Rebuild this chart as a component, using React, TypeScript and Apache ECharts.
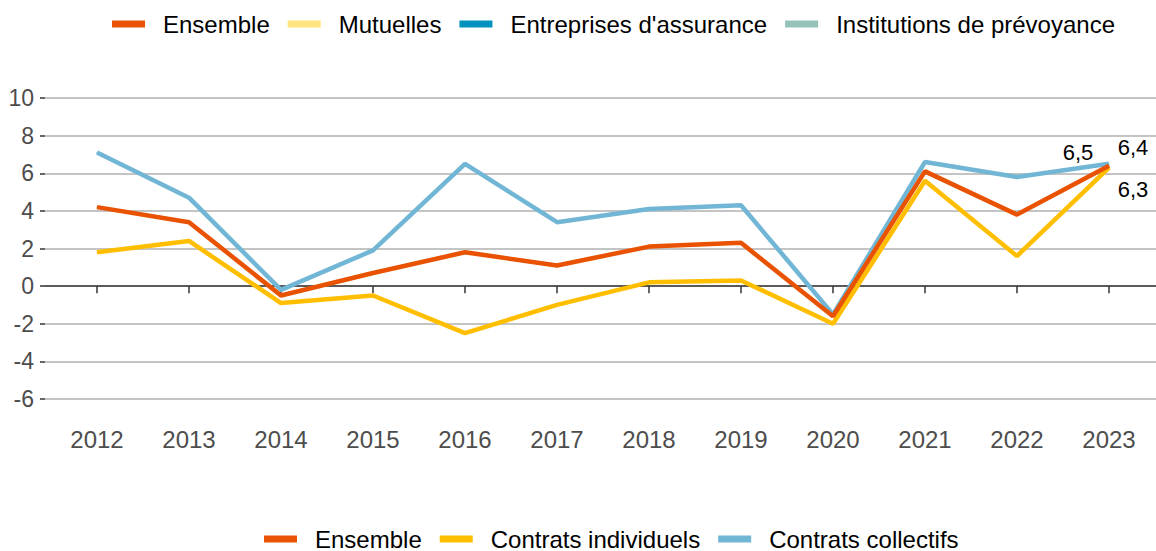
import React, { useEffect, useRef } from "react";
import * as echarts from "echarts";

const years = ["2012", "2013", "2014", "2015", "2016", "2017", "2018", "2019", "2020", "2021", "2022", "2023"];
const ensemble = [4.2, 3.4, -0.5, 0.7, 1.8, 1.1, 2.1, 2.3, -1.6, 6.1, 3.8, 6.4];
const individuels = [1.8, 2.4, -0.9, -0.5, -2.5, -1.0, 0.2, 0.3, -2.0, 5.6, 1.6, 6.3];
const collectifs = [7.1, 4.7, -0.2, 1.9, 6.5, 3.4, 4.1, 4.3, -1.5, 6.6, 5.8, 6.5];
const topLegend = ["Ensemble", "Mutuelles", "Entreprises d'assurance", "Institutions de prévoyance"];
const bottomLegend = ["Ensemble", "Contrats individuels", "Contrats collectifs"];

const FONT = "'Liberation Sans', Arial, sans-serif";

function withEndLabel(arr: number[], offset: [number, number]) {
  return arr.map((v, i) =>
    i === arr.length - 1
      ? {
          value: v,
          label: {
            show: true,
            position: "inside",
            offset,
            formatter: () => String(v).replace(".", ","),
            color: "#000",
            fontSize: 22,
            fontFamily: FONT,
          },
        }
      : v
  );
}

export default function App() {
  const ref = useRef<HTMLDivElement>(null);
  useEffect(() => {
    document.body.style.margin = "0";
    const chart = echarts.init(ref.current!, undefined, { renderer: "svg" });
    const gridColor = "#c4c4c4";
    const splitColors = [gridColor, gridColor, gridColor, "#5a5a5a", gridColor, gridColor, gridColor, gridColor, gridColor];
    const lineSeries = (name: string, data: any[], color: string, z: number) => ({
      name,
      type: "line",
      xAxisIndex: 1,
      yAxisIndex: 1,
      data,
      symbol: "circle",
      symbolSize: 1,
      showSymbol: true,
      z,
      itemStyle: { color },
      lineStyle: { color, width: 4.5 },
      emphasis: { disabled: true },
    });
    const dummy = (name: string, color: string) => ({
      name,
      type: "line",
      xAxisIndex: 1,
      yAxisIndex: 1,
      data: [],
      itemStyle: { color },
      lineStyle: { color },
    });
    const legendCommon = {
      icon: "rect",
      itemWidth: 33,
      itemHeight: 7,
      itemGap: 18,
      padding: 0,
      selectedMode: false,
      textStyle: { color: "#000", fontSize: 24, fontFamily: FONT, padding: [0, 0, 0, 13] },
    };
    chart.setOption({
      animation: false,
      textStyle: { fontFamily: FONT },
      legend: [
        { ...legendCommon, data: topLegend, left: 112, top: 12 },
        { ...legendCommon, data: bottomLegend, left: 264, top: 527 },
      ],
      grid: [
        { left: 45, right: 0, top: 98, height: 301 },
        { left: 51, right: 1, top: 98, height: 301 },
      ],
      xAxis: [
        { type: "value", gridIndex: 0, show: false, min: 0, max: 1 },
        {
          type: "category",
          gridIndex: 1,
          data: years,
          boundaryGap: true,
          offset: 14,
          axisLine: { show: false },
          axisTick: { show: true, alignWithLabel: true, length: 7, lineStyle: { color: "#333", width: 1.5 } },
          axisLabel: { color: "#4d4d4d", fontSize: 24, margin: 14, fontFamily: FONT },
          splitLine: { show: false },
        },
      ],
      yAxis: [
        {
          type: "value",
          gridIndex: 0,
          min: -6,
          max: 10,
          interval: 2,
          axisLine: { show: false },
          axisTick: { show: true, length: 5, lineStyle: { color: "#333", width: 1.5 } },
          axisLabel: { color: "#4d4d4d", fontSize: 23, margin: 11, fontFamily: FONT },
          splitLine: { show: true, lineStyle: { color: splitColors, width: 2 } },
        },
        { type: "value", gridIndex: 1, min: -6, max: 10, interval: 2, show: false, splitLine: { show: false } },
      ],
      series: [
        dummy("Mutuelles", "#FFE57F"),
        dummy("Entreprises d'assurance", "#0093BF"),
        dummy("Institutions de prévoyance", "#94C4B8"),
        lineSeries("Contrats collectifs", withEndLabel(collectifs, [-31, -11]), "#72B6D6", 3),
        lineSeries("Contrats individuels", withEndLabel(individuels, [24, 22]), "#FFBE00", 4),
        lineSeries("Ensemble", withEndLabel(ensemble, [24, -18.5]), "#E85200", 5),
      ],
    });
    return () => chart.dispose();
  }, []);
  return <div ref={ref} style={{ width: 1156, height: 551 }} />;
}
